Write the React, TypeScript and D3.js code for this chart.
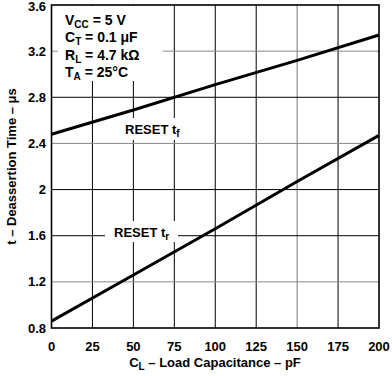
import React from "react";
import * as d3 from "d3";

const capacitance = [0, 50, 100, 150, 200];
const resetTf = [2.48, 2.69, 2.91, 3.12, 3.34];
const resetTr = [0.86, 1.26, 1.66, 2.07, 2.47];
const xTicks = [0, 25, 50, 75, 100, 125, 150, 175, 200];
const yTicks = [0.8, 1.2, 1.6, 2.0, 2.4, 2.8, 3.2, 3.6];
const yTickLabels = ["0.8", "1.2", "1.6", "2", "2.4", "2.8", "3.2", "3.6"];
const grayY = [1.2, 2.4, 3.2];
const grayX = [150];

const W = 392, H = 376;
const L = 51.5, R = 379, T = 5, B = 328;
const FONT = "'Liberation Sans', Arial, Helvetica, sans-serif";

export default function App() {
  const x = d3.scaleLinear().domain([0, 200]).range([L, R]);
  const y = d3.scaleLinear().domain([0.8, 3.6]).range([B, T]);
  const line = d3
    .line<[number, number]>()
    .x((d) => x(d[0]))
    .y((d) => y(d[1]));
  const tf = capacitance.map((c, i) => [c, resetTf[i]] as [number, number]);
  const tr = capacitance.map((c, i) => [c, resetTr[i]] as [number, number]);
  const txt = { fontFamily: FONT, fontWeight: 700, fontSize: 13, fill: "#000" } as const;
  const big = { ...txt, fontSize: 14 };

  return (
    <svg width={W} height={H} style={{ position: "absolute", left: 0, top: 0, background: "#fff" }}>
      {/* grid */}
      {xTicks.slice(1, -1).map((t) => (
        <line key={"gx" + t} x1={x(t)} x2={x(t)} y1={T} y2={B}
          stroke={grayX.includes(t) ? "#777" : "#000"} strokeWidth={1} />
      ))}
      {yTicks.slice(1, -1).map((t) => (
        <line key={"gy" + t} x1={L} x2={R} y1={y(t)} y2={y(t)}
          stroke={grayY.includes(t) ? "#888" : "#000"} strokeWidth={1} />
      ))}
      {/* white backgrounds for labels */}
      <rect x={58} y={T + 1} width={105} height={75} fill="#fff" />
      <rect x={122} y={118} width={63} height={22} fill="#fff" />
      <rect x={105} y={221} width={73} height={21} fill="#fff" />
      {/* frame */}
      <rect x={L} y={T} width={R - L} height={B - T} fill="none" stroke="#000" strokeWidth={1.6} />
      {/* data */}
      <path d={line(tf) || ""} fill="none" stroke="#000" strokeWidth={3} />
      <path d={line(tr) || ""} fill="none" stroke="#000" strokeWidth={3} />
      {/* tick labels */}
      {yTicks.map((t, i) => (
        <text key={"yl" + t} x={46} y={Math.max(y(t) + 4.5, 10.5)} textAnchor="end" {...txt}>{yTickLabels[i]}</text>
      ))}
      {xTicks.map((t) => (
        <text key={"xl" + t} x={x(t)} y={351} textAnchor="middle" {...txt}>{t}</text>
      ))}
      {/* conditions */}
      <text x={65} y={24.5} {...big}>V<tspan fontSize={10} dy={3}>CC</tspan><tspan dy={-3}> = 5 V</tspan></text>
      <text x={65} y={42} {...big}>C<tspan fontSize={10} dy={3}>T</tspan><tspan dy={-3}> = 0.1 μF</tspan></text>
      <text x={65} y={59.5} {...big}>R<tspan fontSize={10} dy={3}>L</tspan><tspan dy={-3}> = 4.7 kΩ</tspan></text>
      <text x={65} y={77} {...big}>T<tspan fontSize={10} dy={3}>A</tspan><tspan dy={-3}> = 25°C</tspan></text>
      {/* curve labels */}
      <text x={125} y={134} {...txt}>RESET t<tspan fontSize={10} dy={3}>f</tspan></text>
      <text x={114} y={237} {...txt}>RESET t<tspan fontSize={10} dy={3}>r</tspan></text>
      {/* axis titles */}
      <text x={215} y={367} textAnchor="middle" {...txt}>C<tspan fontSize={10} dy={3}>L</tspan><tspan dy={-3}> – Load Capacitance – pF</tspan></text>
      <text transform={`translate(16, ${(T + B) / 2}) rotate(-90)`} textAnchor="middle" {...txt}>t – Deassertion Time – μs</text>
    </svg>
  );
}
